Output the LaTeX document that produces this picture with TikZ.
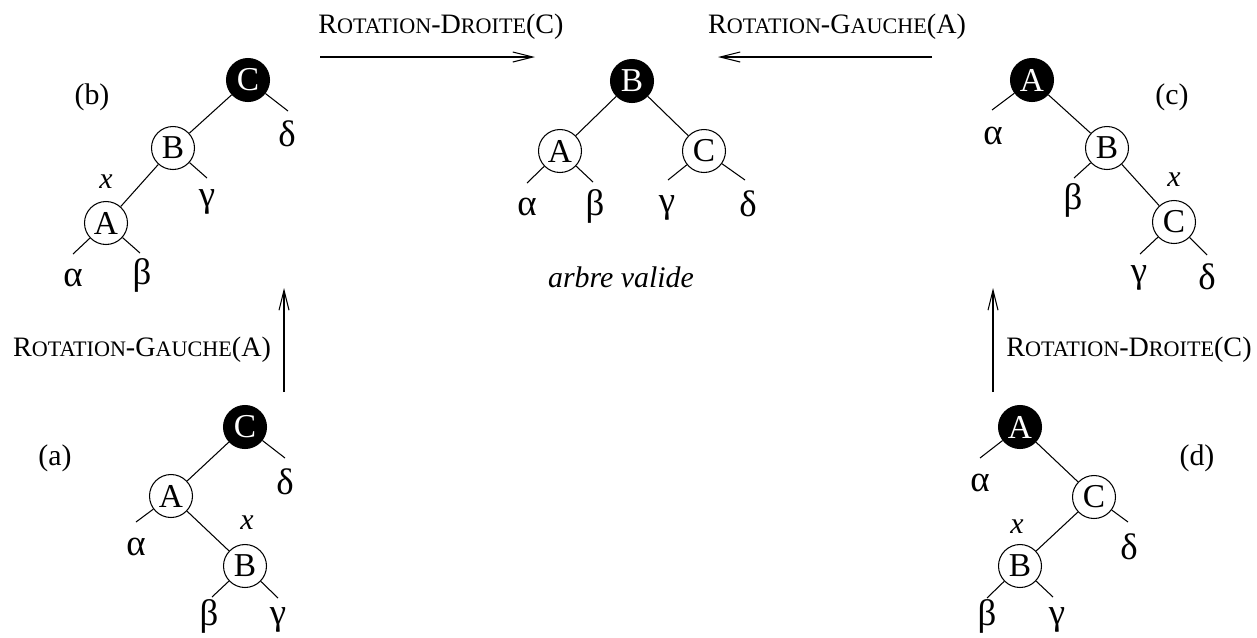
\documentclass[tikz,border=0pt]{standalone}
\usepackage{fontspec}
\setmainfont{Liberation Serif}[ItalicFont={Liberation Serif Italic}]
\usetikzlibrary{arrows.meta}

% petites capitales simulees
\newcommand{\petit}[1]{{\fontsize{12.6}{14}\selectfont #1}}

\begin{document}
\begin{tikzpicture}[x=0.02cm,y=-0.02cm,line width=0.6pt,
  >={Straight Barb[length=4mm,width=2mm]},
  black node/.style={circle,fill=black,draw,text=white,minimum size=0.86cm,inner sep=0pt,font=\fontsize{19}{21}\selectfont},
  white node/.style={circle,fill=white,draw,minimum size=0.86cm,inner sep=0pt,font=\fontsize{19}{21}\selectfont},
  leaf node/.style={inner sep=0pt,font=\fontsize{21}{23}\selectfont},
  txt node/.style={inner sep=0pt,font=\fontsize{17}{19}\selectfont},
  rot node/.style={inner sep=0pt,font=\fontsize{16}{18}\selectfont}]

  \useasboundingbox (0,0) rectangle (1257,637);

  % (b)
  \node[black node] (bC) at (248,80) {C};
  \node[white node] (bB) at (173,148) {B};
  \node[white node] (bA) at (106,223) {A};
  \node[txt node] (bl) at (92,97) {(b)};
  \node[txt node] (bx) at (106,182) {\itshape x};
  \coordinate (bd) at (288,111);
  \coordinate (bg) at (207,178);
  \coordinate (ba) at (73,254);
  \coordinate (bb) at (140,253);
  \node[leaf node] (bdl) at (287,134) {δ};
  \node[leaf node] (bgl) at (207,202) {γ};
  \node[leaf node] (bal) at (73,278) {α};
  \node[leaf node] (bbl) at (142,275) {β};
  \path (bC) edge (bB) (bB) edge (bA)
    (bC) edge (bd) (bB) edge (bg) (bA) edge (ba) (bA) edge (bb);

  % arbre valide
  \node[black node] (mB) at (632,81) {B};
  \node[white node] (mA) at (560,151) {A};
  \node[white node] (mC) at (704,151) {C};
  \coordinate (ma) at (527,183);
  \coordinate (mb) at (593,182);
  \coordinate (mg) at (668,180);
  \coordinate (md) at (745,180);
  \node[leaf node] (mal) at (527,207) {α};
  \node[leaf node] (mbl) at (595,206) {β};
  \node[leaf node] (mgl) at (667,208) {γ};
  \node[leaf node] (mdl) at (748,204) {δ};
  \node[txt node] (valide) at (621,277) {\itshape arbre valide};
  \path (mB) edge (mA) (mB) edge (mC)
    (mA) edge (ma) (mA) edge (mb) (mC) edge (mg) (mC) edge (md);

  % (c)
  \node[black node] (cA) at (1032,80) {A};
  \node[white node] (cB) at (1107,148) {B};
  \node[white node] (cC) at (1174,222) {C};
  \node[txt node] (cl) at (1172,97) {(c)};
  \node[txt node] (cx) at (1174,180) {\itshape x};
  \coordinate (ca) at (992,110);
  \coordinate (cb) at (1074,178);
  \coordinate (cg) at (1140,254);
  \coordinate (cd) at (1207,255);
  \node[leaf node] (cal) at (993,136) {α};
  \node[leaf node] (cbl) at (1073,200) {β};
  \node[leaf node] (cgl) at (1139,278) {γ};
  \node[leaf node] (cdl) at (1207,277) {δ};
  \path (cA) edge (cB) (cB) edge (cC)
    (cA) edge (ca) (cB) edge (cb) (cC) edge (cg) (cC) edge (cd);

  % (a)
  \node[black node] (aC) at (245,427) {C};
  \node[white node] (aA) at (171,496) {A};
  \node[white node] (aB) at (245,566) {B};
  \node[txt node] (al) at (55,458) {(a)};
  \node[txt node] (ax) at (247,523) {\itshape x};
  \coordinate (ad) at (285,458);
  \coordinate (aa) at (136,522);
  \coordinate (ab) at (212,597);
  \coordinate (ag) at (278,598);
  \node[leaf node] (adl) at (285,482) {δ};
  \node[leaf node] (aal) at (136,547) {α};
  \node[leaf node] (abl) at (209,616) {β};
  \node[leaf node] (agl) at (278,620) {γ};
  \path (aC) edge (aA) (aA) edge (aB)
    (aC) edge (ad) (aA) edge (aa) (aB) edge (ab) (aB) edge (ag);

  % (d)
  \node[black node] (dA) at (1020,427) {A};
  \node[white node] (dC) at (1094,497) {C};
  \node[white node] (dB) at (1020,566) {B};
  \node[txt node] (dl) at (1197,458) {(d)};
  \node[txt node] (dx) at (1017,527) {\itshape x};
  \coordinate (da) at (980,458);
  \coordinate (dd) at (1128,522);
  \coordinate (db) at (987,598);
  \coordinate (dg) at (1053,597);
  \node[leaf node] (dal) at (980,483) {α};
  \node[leaf node] (ddl) at (1129,547) {δ};
  \node[leaf node] (dbl) at (987,616) {β};
  \node[leaf node] (dgl) at (1057,620) {γ};
  \path (dA) edge (dC) (dC) edge (dB)
    (dA) edge (da) (dC) edge (dd) (dB) edge (db) (dB) edge (dg);

  % rotations
  \node[rot node] (r1) at (441,27) {R\petit{OTATION}-D\petit{ROITE}(C)};
  \node[rot node] (r2) at (837,27) {R\petit{OTATION}-G\petit{AUCHE}(A)};
  \node[rot node] (r3) at (142,350) {R\petit{OTATION}-G\petit{AUCHE}(A)};
  \node[rot node] (r4) at (1129,350) {R\petit{OTATION}-D\petit{ROITE}(C)};
  \coordinate (r1s) at (320,57);
  \coordinate (r1e) at (535,57);
  \coordinate (r2s) at (932,57);
  \coordinate (r2e) at (718,57);
  \coordinate (r3s) at (284,392);
  \coordinate (r3e) at (284,288);
  \coordinate (r4s) at (993,392);
  \coordinate (r4e) at (993,288);
  \path[->] (r1s) edge (r1e) (r2s) edge (r2e)
    (r3s) edge (r3e) (r4s) edge (r4e);

\end{tikzpicture}
\end{document}
